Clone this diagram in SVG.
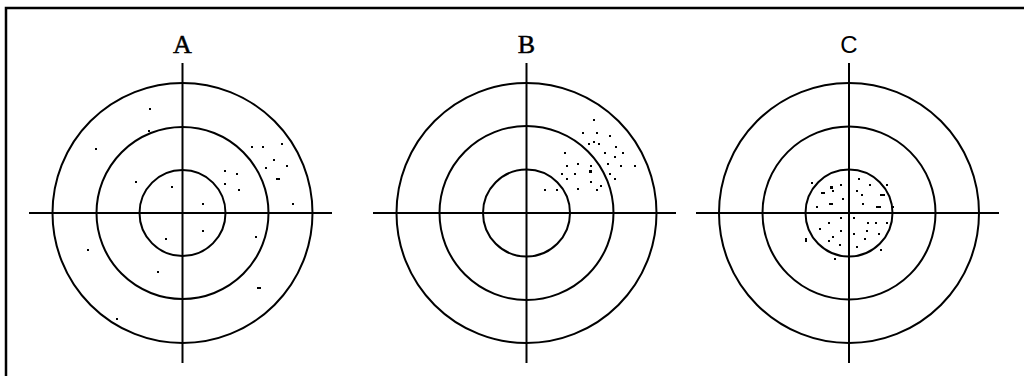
<svg xmlns="http://www.w3.org/2000/svg" width="1024" height="376" viewBox="0 0 1024 376">
<style>
.ring{fill:none;stroke:#000;stroke-width:2}
.axis{stroke:#000;stroke-width:2}
.frame{stroke:#000;stroke-width:2.5;fill:none}
.lbl{font-family:"Liberation Serif",serif;font-size:26px;fill:#000;text-anchor:middle;stroke:#000;stroke-width:0.5}
.lbls{font-family:"Liberation Sans",sans-serif;font-size:24px;fill:#000;text-anchor:middle}
.d{fill:#000}
</style>
<rect width="1024" height="376" fill="#fff"/>
<path class="frame" d="M6 376 V8 H1024"/>
<g id="target-A">
<text class="lbl" x="182.5" y="53">A</text>
<circle class="ring" cx="182.5" cy="213" r="130"/>
<circle class="ring" cx="182.5" cy="213" r="86"/>
<circle class="ring" cx="182.5" cy="213" r="43"/>
<line class="axis" x1="29" y1="213" x2="332" y2="213"/>
<line class="axis" x1="182.5" y1="63" x2="182.5" y2="363"/>
<g class="d">
<rect x="149" y="108" width="2" height="2"/><rect x="148" y="130" width="2" height="2"/>
<rect x="95" y="148" width="2" height="2"/><rect x="251" y="146" width="2" height="2"/>
<rect x="262" y="146" width="2" height="2"/><rect x="281" y="143" width="2" height="2"/>
<rect x="273" y="159" width="2" height="2"/><rect x="265" y="167" width="2" height="2"/>
<rect x="286" y="165" width="2" height="2"/><rect x="224" y="170" width="2" height="2"/>
<rect x="236" y="173" width="2" height="2"/><rect x="224" y="183" width="2" height="2"/>
<rect x="238" y="189" width="2" height="2"/><rect x="276" y="178" width="4" height="2"/>
<rect x="135" y="181" width="2" height="2"/><rect x="171" y="186" width="2" height="2"/>
<rect x="202" y="203" width="2" height="2"/><rect x="292" y="203" width="2" height="2"/>
<rect x="202" y="230" width="2" height="2"/><rect x="165" y="238" width="2" height="2"/>
<rect x="255" y="236" width="2" height="2"/><rect x="87" y="249" width="2" height="2"/>
<rect x="157" y="271" width="2" height="2"/><rect x="257" y="287" width="4" height="2"/>
<rect x="116" y="318" width="2" height="2"/>
</g>
</g>
<g id="target-B">
<text class="lbl" x="526.5" y="53">B</text>
<circle class="ring" cx="526.5" cy="213" r="130"/>
<circle class="ring" cx="526.5" cy="213" r="87"/>
<circle class="ring" cx="526.5" cy="213" r="43.5"/>
<line class="axis" x1="373" y1="213" x2="676" y2="213"/>
<line class="axis" x1="526.5" y1="63" x2="526.5" y2="363"/>
<g class="d">
<rect x="593" y="119" width="2" height="2"/><rect x="582" y="132" width="2" height="2"/>
<rect x="596" y="132" width="2" height="2"/><rect x="609" y="135" width="2" height="2"/>
<rect x="588" y="143" width="2" height="2"/><rect x="593" y="141" width="2" height="2"/>
<rect x="598" y="143" width="2" height="2"/><rect x="615" y="146" width="2" height="2"/>
<rect x="564" y="152" width="2" height="2"/><rect x="604" y="152" width="2" height="2"/>
<rect x="614" y="156" width="2" height="2"/><rect x="622" y="152" width="2" height="2"/>
<rect x="566" y="165" width="2" height="2"/><rect x="577" y="163" width="2" height="2"/>
<rect x="590" y="165" width="2" height="2"/><rect x="607" y="163" width="2" height="2"/>
<rect x="620" y="165" width="2" height="2"/><rect x="634" y="165" width="2" height="2"/>
<rect x="561" y="173" width="2" height="2"/><rect x="574" y="173" width="2" height="2"/>
<rect x="589" y="170" width="3" height="3"/><rect x="609" y="173" width="2" height="2"/>
<rect x="566" y="178" width="2" height="2"/><rect x="590" y="181" width="2" height="2"/>
<rect x="600" y="185" width="2" height="2"/><rect x="614" y="178" width="2" height="2"/>
<rect x="544" y="189" width="2" height="2"/><rect x="556" y="189" width="2" height="2"/>
<rect x="577" y="188" width="2" height="2"/><rect x="596" y="189" width="2" height="2"/>
</g>
</g>
<g id="target-C">
<text class="lbls" x="849" y="53">C</text>
<circle class="ring" cx="849" cy="213" r="130"/>
<circle class="ring" cx="849" cy="213" r="86.5"/>
<circle class="ring" cx="849" cy="213" r="43.5"/>
<line class="axis" x1="696" y1="213" x2="999" y2="213"/>
<line class="axis" x1="849" y1="63" x2="849" y2="363"/>
<g class="d">
<rect x="811" y="182" width="2" height="2"/><rect x="830" y="186" width="3" height="3"/>
<rect x="840" y="184" width="2" height="2"/><rect x="858" y="178" width="2" height="2"/>
<rect x="869" y="184" width="2" height="2"/><rect x="886" y="184" width="2" height="2"/>
<rect x="821" y="192" width="4" height="2"/><rect x="832" y="190" width="2" height="2"/>
<rect x="856" y="190" width="2" height="2"/><rect x="842" y="198" width="2" height="2"/>
<rect x="861" y="194" width="2" height="2"/><rect x="880" y="194" width="5" height="2"/>
<rect x="829" y="203" width="4" height="2"/><rect x="816" y="206" width="2" height="2"/>
<rect x="862" y="203" width="2" height="2"/><rect x="876" y="206" width="5" height="2"/>
<rect x="892" y="206" width="2" height="2"/><rect x="840" y="217" width="2" height="2"/>
<rect x="828" y="222" width="2" height="2"/><rect x="853" y="217" width="2" height="2"/>
<rect x="867" y="222" width="2" height="2"/><rect x="875" y="222" width="2" height="2"/>
<rect x="886" y="222" width="2" height="2"/><rect x="819" y="228" width="2" height="2"/>
<rect x="840" y="230" width="2" height="2"/><rect x="853" y="233" width="2" height="2"/>
<rect x="866" y="230" width="2" height="2"/><rect x="878" y="233" width="2" height="2"/>
<rect x="832" y="236" width="2" height="2"/><rect x="805" y="238" width="2" height="4"/>
<rect x="864" y="238" width="2" height="2"/><rect x="828" y="240" width="2" height="2"/>
<rect x="839" y="244" width="2" height="2"/><rect x="856" y="246" width="2" height="2"/>
<rect x="880" y="249" width="2" height="2"/><rect x="834" y="258" width="2" height="2"/>
</g>
</g>
</svg>
